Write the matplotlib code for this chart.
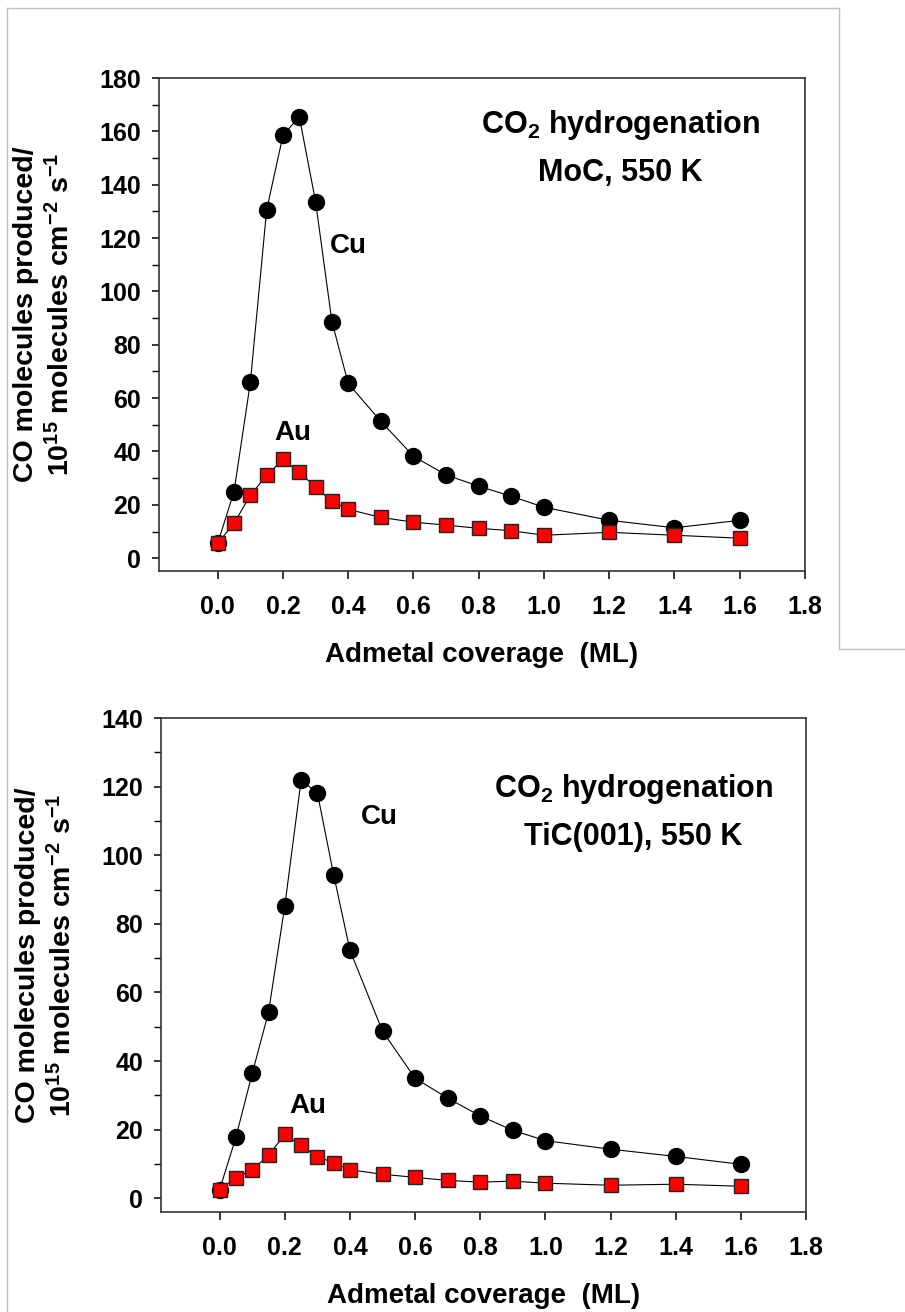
import matplotlib
matplotlib.use("Agg")
import matplotlib.pyplot as plt
from matplotlib.lines import Line2D
from matplotlib.ticker import MultipleLocator

plt.rcParams['font.family'] = ['Liberation Sans', 'DejaVu Sans']
plt.rcParams['font.weight'] = 'bold'
plt.rcParams['mathtext.fontset'] = 'custom'
plt.rcParams['mathtext.rm'] = 'Liberation Sans:bold'
plt.rcParams['mathtext.bf'] = 'Liberation Sans:bold'
plt.rcParams['mathtext.it'] = 'Liberation Sans:bold'
plt.rcParams['mathtext.default'] = 'bf'

# coverage (ML)
cov = [0.0, 0.05, 0.1, 0.15, 0.2, 0.25, 0.3, 0.35, 0.4, 0.5, 0.6, 0.7, 0.8, 0.9, 1.0, 1.2, 1.4, 1.6]

# MoC, 550 K
moc_cu = [5.6, 25.0, 65.9, 130.6, 158.5, 165.5, 133.6, 88.7, 65.5, 51.3, 38.2, 31.2, 27.0, 23.2, 19.1, 14.2, 11.4, 14.2]
moc_au = [5.6, 13.1, 23.6, 31.0, 37.0, 32.2, 26.6, 21.3, 18.3, 15.3, 13.5, 12.4, 11.2, 10.3, 8.6, 9.7, 8.6, 7.5]

# TiC(001), 550 K
tic_cu = [2.5, 17.8, 36.4, 54.2, 85.2, 121.8, 118.2, 94.3, 72.3, 48.7, 35.0, 29.2, 24.0, 19.8, 16.8, 14.3, 12.2, 9.9]
tic_au = [2.5, 6.0, 8.3, 12.5, 18.6, 15.4, 12.1, 10.4, 8.3, 7.0, 6.1, 5.2, 4.7, 5.0, 4.4, 3.8, 4.1, 3.5]

xticks = [0.0, 0.2, 0.4, 0.6, 0.8, 1.0, 1.2, 1.4, 1.6, 1.8]

W, H = 905, 1312
fig = plt.figure(figsize=(W / 100, H / 100), dpi=100)


def px_axes(left, top, right, bottom):
    return fig.add_axes([left / W, 1 - bottom / H, (right - left) / W, (bottom - top) / H])


def panel(ax, cu, au, ymax, ymin, substrate, txt_xy, cu_xy, au_xy):
    ax.plot(cov, cu, color='black', lw=0.8, marker='o', ms=11.5,
            mfc='black', mec='black', zorder=3)
    ax.plot(cov, au, color='black', lw=0.8, marker='s', ms=9.5,
            mfc='red', mec='#222222', mew=1.0, zorder=4)
    ax.set_xlim(-0.18, 1.8)
    ax.set_ylim(ymin, ymax)
    ax.set_xticks(xticks)
    ax.set_xticklabels([f"{v:.1f}" for v in xticks])
    ax.yaxis.set_major_locator(MultipleLocator(20))
    ax.yaxis.set_minor_locator(MultipleLocator(10))
    ax.set_yticks(range(0, ymax + 1, 20))
    ax.tick_params(axis='x', which='major', direction='out', length=6, width=1.1,
                   pad=11, labelsize=18)
    ax.tick_params(axis='y', which='major', direction='out', length=5, width=1.1,
                   pad=8, labelsize=18)
    ax.tick_params(axis='y', which='minor', direction='out', length=5, width=1.0)
    for s in ax.spines.values():
        s.set_linewidth(1.2)
        s.set_color('#333333')
    ax.set_xlabel("Admetal coverage  (ML)", fontsize=20, fontweight='bold', labelpad=17)
    ax.set_ylabel("CO molecules produced/\n"
                  r"$10^{15}$ molecules cm$^{-2}$ s$^{-1}$",
                  fontsize=20.5, fontweight='bold', linespacing=1.3, va='center')
    ax.yaxis.set_label_coords(-0.178, 0.52)
    ax.text(txt_xy[0], txt_xy[1], "CO$_2$ hydrogenation\n" + substrate,
            transform=ax.transAxes, ha='center', va='center', fontsize=22,
            fontweight='bold', linespacing=1.7)
    ax.text(cu_xy[0], cu_xy[1], "Cu", ha='center', va='center', fontsize=20, fontweight='bold')
    ax.text(au_xy[0], au_xy[1], "Au", ha='center', va='center', fontsize=20, fontweight='bold')


ax1 = px_axes(159, 78, 805, 571)
panel(ax1, moc_cu, moc_au, 180, -4.8, "MoC, 550 K", (0.714, 0.858), (0.4, 117), (0.23, 47))

ax2 = px_axes(161, 718, 806, 1212)
panel(ax2, tic_cu, tic_au, 140, -4.0, "TiC(001), 550 K", (0.732, 0.81), (0.49, 111), (0.27, 27))

# grey page frame from the original screenshot
g = '#c0c0c0'
fig.add_artist(Line2D([7 / W, 839 / W], [1 - 8 / H, 1 - 8 / H], color=g, lw=1))
fig.add_artist(Line2D([7 / W, 7 / W], [1 - 8 / H, 0], color=g, lw=1))
fig.add_artist(Line2D([839 / W, 839 / W], [1 - 8 / H, 1 - 649 / H], color=g, lw=1))
fig.add_artist(Line2D([839 / W, 1], [1 - 649 / H, 1 - 649 / H], color=g, lw=1))

fig.savefig("out.png", dpi=100)
